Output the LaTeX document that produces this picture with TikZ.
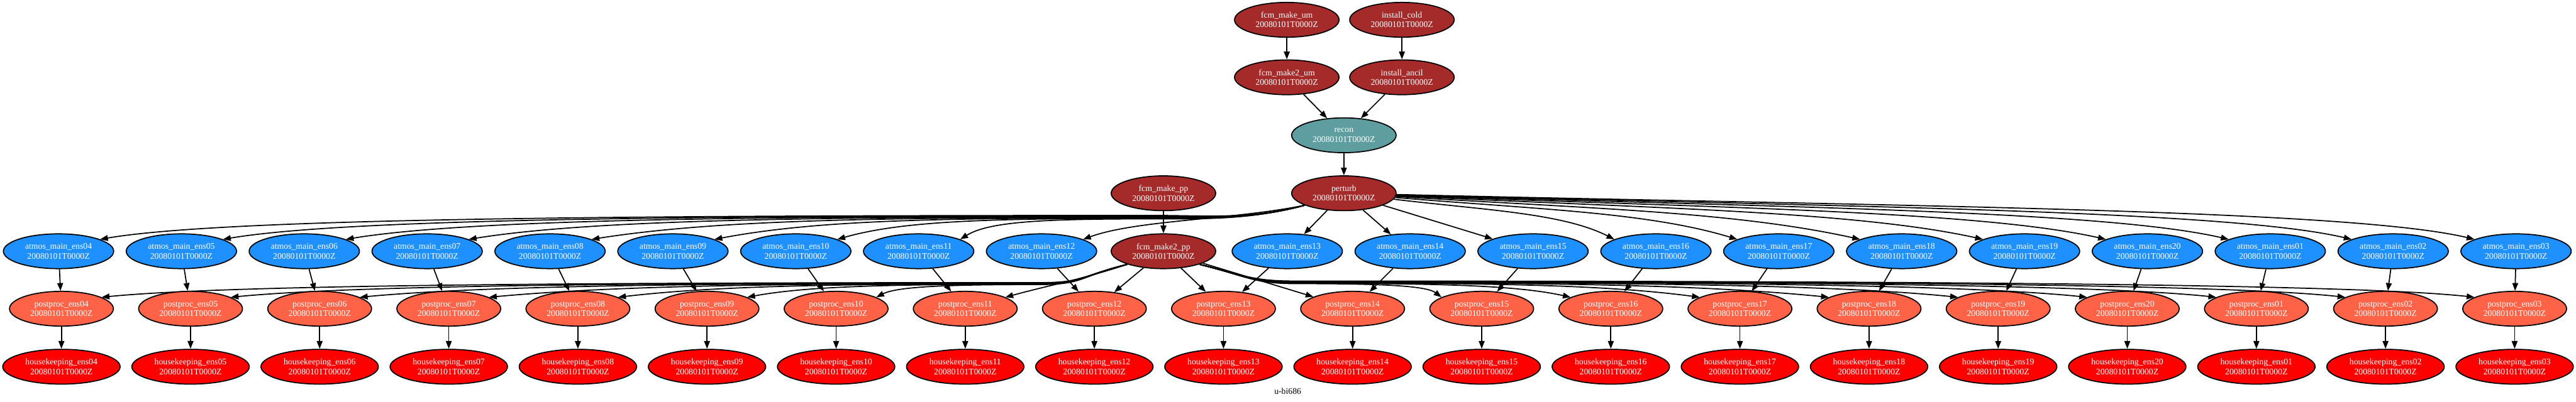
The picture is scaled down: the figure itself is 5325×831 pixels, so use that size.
\documentclass[tikz,border=0pt]{standalone}
\usepackage{fontspec}
\setmainfont{Liberation Serif}
\usetikzlibrary{shapes.geometric,arrows.meta,calc}
\definecolor{gvbrown}{HTML}{A52A2A}
\definecolor{gvcadet}{HTML}{5F9EA0}
\definecolor{gvdodger}{HTML}{1E90FF}
\definecolor{gvtomato}{HTML}{FF6347}
\definecolor{gvred}{HTML}{FF0000}
\tikzset{
  task/.style={ellipse, draw=black, line width=1.7pt, text=white, align=center,
    inner sep=0pt, minimum width=162pt, minimum height=54pt,
    font=\fontsize{13.4}{14.8}\selectfont},
  brownnode/.style={task, fill=gvbrown},
  cadetnode/.style={task, fill=gvcadet},
  atmosnode/.style={task, fill=gvdodger, minimum width=171pt},
  ppnode/.style={task, fill=gvtomato, minimum width=161pt},
  hknode/.style={task, fill=gvred, minimum width=182pt},
  edge/.style={draw=black, line width=1.7pt, -{Triangle[length=12pt,width=9pt]}},
  caption/.style={font=\fontsize{13.4}{14.8}\selectfont, text=black}
}
\begin{document}
\begin{tikzpicture}[x=0.75pt,y=-0.75pt]
\useasboundingbox (0,0) rectangle (5325,831);
% top part
\node[brownnode] (fmu) at (2660,41) {fcm\_make\_um\\20080101T0000Z};
\node[brownnode] (icold) at (2898,41) {install\_cold\\20080101T0000Z};
\node[brownnode] (fm2u) at (2660,160) {fcm\_make2\_um\\20080101T0000Z};
\node[brownnode] (iancil) at (2898,160) {install\_ancil\\20080101T0000Z};
\node[cadetnode] (recon) at (2778,280) {recon\\20080101T0000Z};
\node[brownnode] (perturb) at (2778,400) {perturb\\20080101T0000Z};
\node[brownnode] (fmpp) at (2405,400) {fcm\_make\_pp\\20080101T0000Z};
\node[brownnode] (fm2pp) at (2405,520) {fcm\_make2\_pp\\20080101T0000Z};
\node[caption] (title) at (2662,810) {u-bi686};
\draw[edge] (fmu) -- (fm2u);
\draw[edge] (icold) -- (iancil);
\draw[edge] (fm2u) -- (recon);
\draw[edge] (iancil) -- (recon);
\draw[edge] (recon) -- (perturb);
\draw[edge] (fmpp) -- (fm2pp);
% ensemble members
\foreach \lab [count=\j from 0] in {04,05,06,07,08,09,10,11,12,13,14,15,16,17,18,19,20,01,02,03} {
  \pgfmathtruncatemacro{\k}{\j<9 ? \j : \j+1}
  \pgfmathsetmacro{\ax}{121+254*\k}
  \pgfmathsetmacro{\px}{127+266.9*\j}
  \node[atmosnode] (a\lab) at (\ax,520) {atmos\_main\_ens\lab\\20080101T0000Z};
  \node[ppnode] (p\lab) at (\px,639) {postproc\_ens\lab\\20080101T0000Z};
  \node[hknode] (h\lab) at (\px,759) {housekeeping\_ens\lab\\20080101T0000Z};
  \draw[edge] (a\lab) -- (p\lab);
  \draw[edge] (p\lab) -- (h\lab);
  % ---------- perturb -> atmos
  \pgfmathsetmacro{\adx}{abs(\ax-2778)}
  \ifnum\k<8
    \pgfmathsetmacro{\yL}{455-(2390-\ax)/250}
    \pgfmathsetmacro{\Lone}{0.45*(2390-\ax)}
    \pgfmathsetmacro{\cB}{\ax+min(0.3*(2390-\ax),350)}
    \draw[edge] (perturb.197) .. controls +(-110,30) and +(100,0) .. (2390,\yL)
      .. controls +(-\Lone,0) and (\cB,\yL+4) .. (a\lab.16);
  \else\ifnum\k=8
    \draw[edge] (perturb.197) .. controls (2550,455) and (2350,455) .. (a\lab.16);
  \else\ifnum\k<13
    \draw[edge] (perturb) -- (a\lab);
  \else
    \pgfmathsetmacro{\yA}{450-\adx/200}
    \pgfmathsetmacro{\cA}{2778+0.45*\adx}
    \pgfmathsetmacro{\cB}{\ax-min(0.3*\adx,350)}
    \draw[edge] (perturb) .. controls (\cA,\yA-12) and (\cB,\yA-6) .. (a\lab.164);
  \fi\fi\fi
  % ---------- fcm_make2_pp -> postproc
  \ifnum\j<7
    \pgfmathsetmacro{\yP}{590-(2150-\px)/400}
    \pgfmathsetmacro{\Lone}{0.45*(2150-\px)}
    \pgfmathsetmacro{\cB}{\px+min(0.3*(2150-\px),350)}
    \draw[edge] (fm2pp.200) .. controls +(-100,25) and +(90,0) .. (2150,\yP)
      .. controls +(-\Lone,0) and (\cB,\yP+4) .. (p\lab.16);
  \else\ifnum\j=7
    \draw[edge] (fm2pp.200) .. controls (2230,580) and (2170,590) .. (p\lab.16);
  \else\ifnum\j<11
    \draw[edge] (fm2pp) -- (p\lab);
  \else
    \pgfmathsetmacro{\yR}{588-(\px-2680)/400}
    \pgfmathsetmacro{\Lone}{0.45*(\px-2680)}
    \pgfmathsetmacro{\cB}{\px-min(0.3*(\px-2680),350)}
    \draw[edge] (fm2pp.-20) .. controls +(100,25) and +(-90,0) .. (2680,\yR)
      .. controls +(\Lone,0) and (\cB,\yR+4) .. (p\lab.164);
  \fi\fi\fi
}
\end{tikzpicture}
\end{document}
